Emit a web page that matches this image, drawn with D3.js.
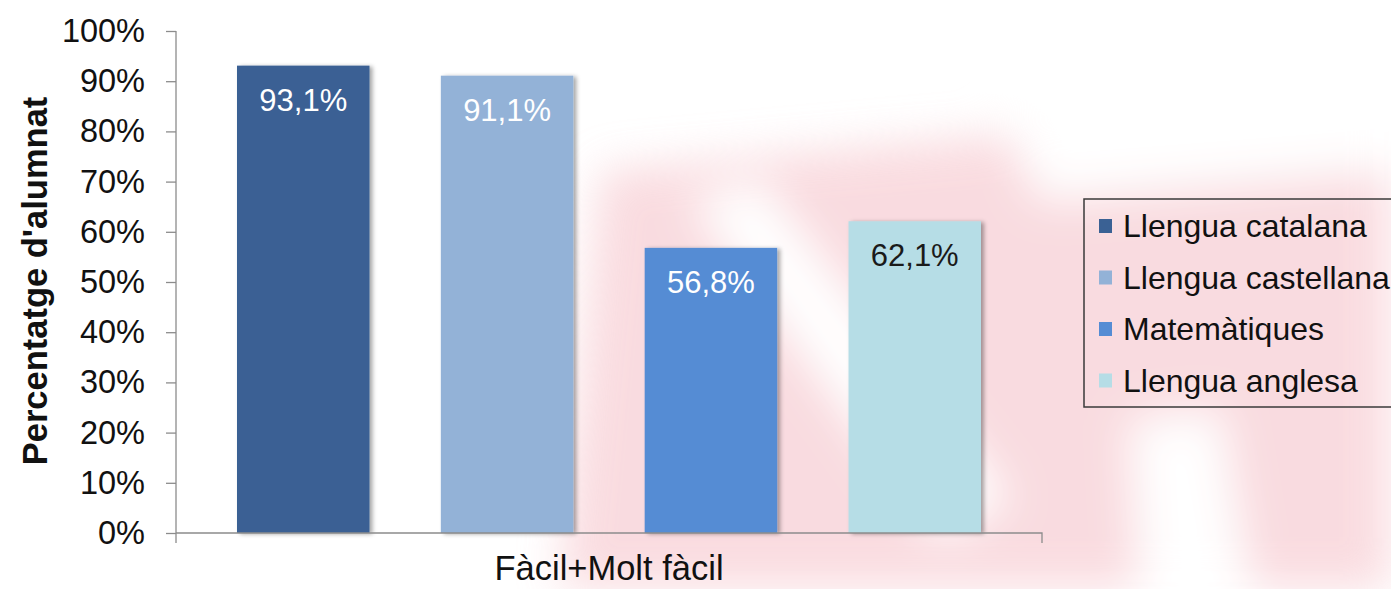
<!DOCTYPE html>
<html>
<head>
<meta charset="utf-8">
<script src="https://cdn.jsdelivr.net/npm/d3@7"></script>
<style>
  body { margin: 0; background: #fff; }
  text { font-family: "Liberation Sans", Arial, sans-serif; }
</style>
</head>
<body>
<script>
// data
var categories = ["Fàcil+Molt fàcil"];
var series = ["Llengua catalana", "Llengua castellana", "Matemàtiques", "Llengua anglesa"];
var values = [93.1, 91.1, 56.8, 62.1];
var valueLabels = ["93,1%", "91,1%", "56,8%", "62,1%"];
var colors = ["#3a6194", "#93b2d7", "#558cd4", "#b6dde6"];
var labelColors = ["#fff", "#fff", "#fff", "#1a1a1a"];
var yTicks = [0, 10, 20, 30, 40, 50, 60, 70, 80, 90, 100];

var w = 1391, h = 589;
var mLeft = 176, mRight = 1042, mTop = 31, mBottom = 533;

var svg = d3.select("body").append("svg")
  .attr("width", w)
  .attr("height", h);

var defs = svg.append("defs");
defs.append("filter").attr("id", "blur")
  .attr("x", "-20%").attr("y", "-20%").attr("width", "140%").attr("height", "140%")
  .append("feGaussianBlur").attr("stdDeviation", 22);
defs.append("filter").attr("id", "shadow")
  .attr("x", "-10%").attr("y", "-10%").attr("width", "130%").attr("height", "120%")
  .append("feDropShadow")
    .attr("dx", 3).attr("dy", 1).attr("stdDeviation", 2)
    .attr("flood-color", "#000").attr("flood-opacity", 0.35);

// faint watermark in the background
var bg = svg.append("g").attr("filter", "url(#blur)").attr("opacity", 0.75);
bg.append("path")
  .attr("d", "M600,170 L1391,100 L1391,589 L560,589 Z")
  .attr("fill", "#f8d0d6");
bg.append("path")
  .attr("d", "M690,200 L760,180 L1010,500 L940,540 Z")
  .attr("fill", "#fff");
bg.append("path")
  .attr("d", "M1130,420 L1220,410 L1250,589 L1140,589 Z")
  .attr("fill", "#fff");
bg.append("path")
  .attr("d", "M1000,110 L1391,80 L1391,170 L1040,200 Z")
  .attr("fill", "#fff");

var y = d3.scaleLinear()
  .domain([0, 100])
  .range([mBottom, mTop]);

var x0 = d3.scaleBand()
  .domain(categories)
  .range([mLeft, mRight])
  .paddingInner(0)
  .paddingOuter(0.082);

var x1 = d3.scaleBand()
  .domain(series)
  .range([0, x0.bandwidth()])
  .paddingInner(0.35)
  .paddingOuter(0);

var bars = svg.append("g");
bars.selectAll("rect")
  .data(values)
  .enter()
  .append("rect")
    .attr("x", function(d, i) { return x0(categories[0]) + x1(series[i]); })
    .attr("y", function(d) { return y(d); })
    .attr("width", x1.bandwidth())
    .attr("height", function(d) { return y(0) - y(d); })
    .attr("fill", function(d, i) { return colors[i]; })
    .attr("filter", "url(#shadow)");

bars.selectAll("text")
  .data(values)
  .enter()
  .append("text")
    .attr("x", function(d, i) { return x0(categories[0]) + x1(series[i]) + x1.bandwidth() / 2; })
    .attr("y", function(d) { return y(d) + 45; })
    .attr("text-anchor", "middle")
    .attr("font-size", 31)
    .attr("fill", function(d, i) { return labelColors[i]; })
    .text(function(d, i) { return valueLabels[i]; });

// y axis
var yAxis = d3.axisLeft(y)
  .tickValues(yTicks)
  .tickFormat(function(d) { return d + "%"; })
  .tickSize(10)
  .tickPadding(21)
  .tickSizeOuter(0);

var gy = svg.append("g")
  .attr("transform", "translate(" + mLeft + ",0)")
  .call(yAxis);
gy.select(".domain").attr("stroke", "#8c8c8c").attr("stroke-width", 1.3)
  .attr("d", "M0," + mTop + "V" + (mBottom + 10));
gy.selectAll(".tick line").attr("stroke", "#8c8c8c").attr("stroke-width", 1.3);
gy.selectAll(".tick text").attr("font-size", 32.5).attr("fill", "#111")
  .attr("font-family", "Liberation Sans, Arial, sans-serif");

// x axis
var xAxis = d3.axisBottom(x0).tickSize(0).tickPadding(23).tickSizeOuter(0);
var gx = svg.append("g")
  .attr("transform", "translate(0," + mBottom + ")")
  .call(xAxis);
gx.select(".domain").attr("stroke", "#8c8c8c").attr("stroke-width", 1.3)
  .attr("d", "M" + mLeft + ",0H" + mRight + "V10");
gx.selectAll(".tick text").attr("font-size", 34.5).attr("fill", "#111")
  .attr("font-family", "Liberation Sans, Arial, sans-serif");

// y title
svg.append("text")
  .attr("transform", "translate(47,281) rotate(-90)")
  .attr("text-anchor", "middle")
  .attr("font-size", 34.5)
  .attr("font-weight", "bold")
  .attr("fill", "#111")
  .text("Percentatge d'alumnat");

// legend
var lg = svg.append("g").attr("transform", "translate(1084,199)");
lg.append("rect")
  .attr("width", 330).attr("height", 208)
  .attr("fill", "none")
  .attr("stroke", "#3a3a3a")
  .attr("stroke-width", 1.5);
var item = lg.selectAll("g.item")
  .data(series)
  .enter()
  .append("g")
    .attr("class", "item")
    .attr("transform", function(d, i) { return "translate(0," + (27 + i * 51.5) + ")"; });
item.append("rect")
  .attr("x", 15).attr("y", -7)
  .attr("width", 13).attr("height", 14)
  .attr("fill", function(d, i) { return colors[i]; });
item.append("text")
  .attr("x", 39).attr("y", 11)
  .attr("font-size", 32)
  .attr("fill", "#111")
  .text(function(d) { return d; });
</script>
</body>
</html>
